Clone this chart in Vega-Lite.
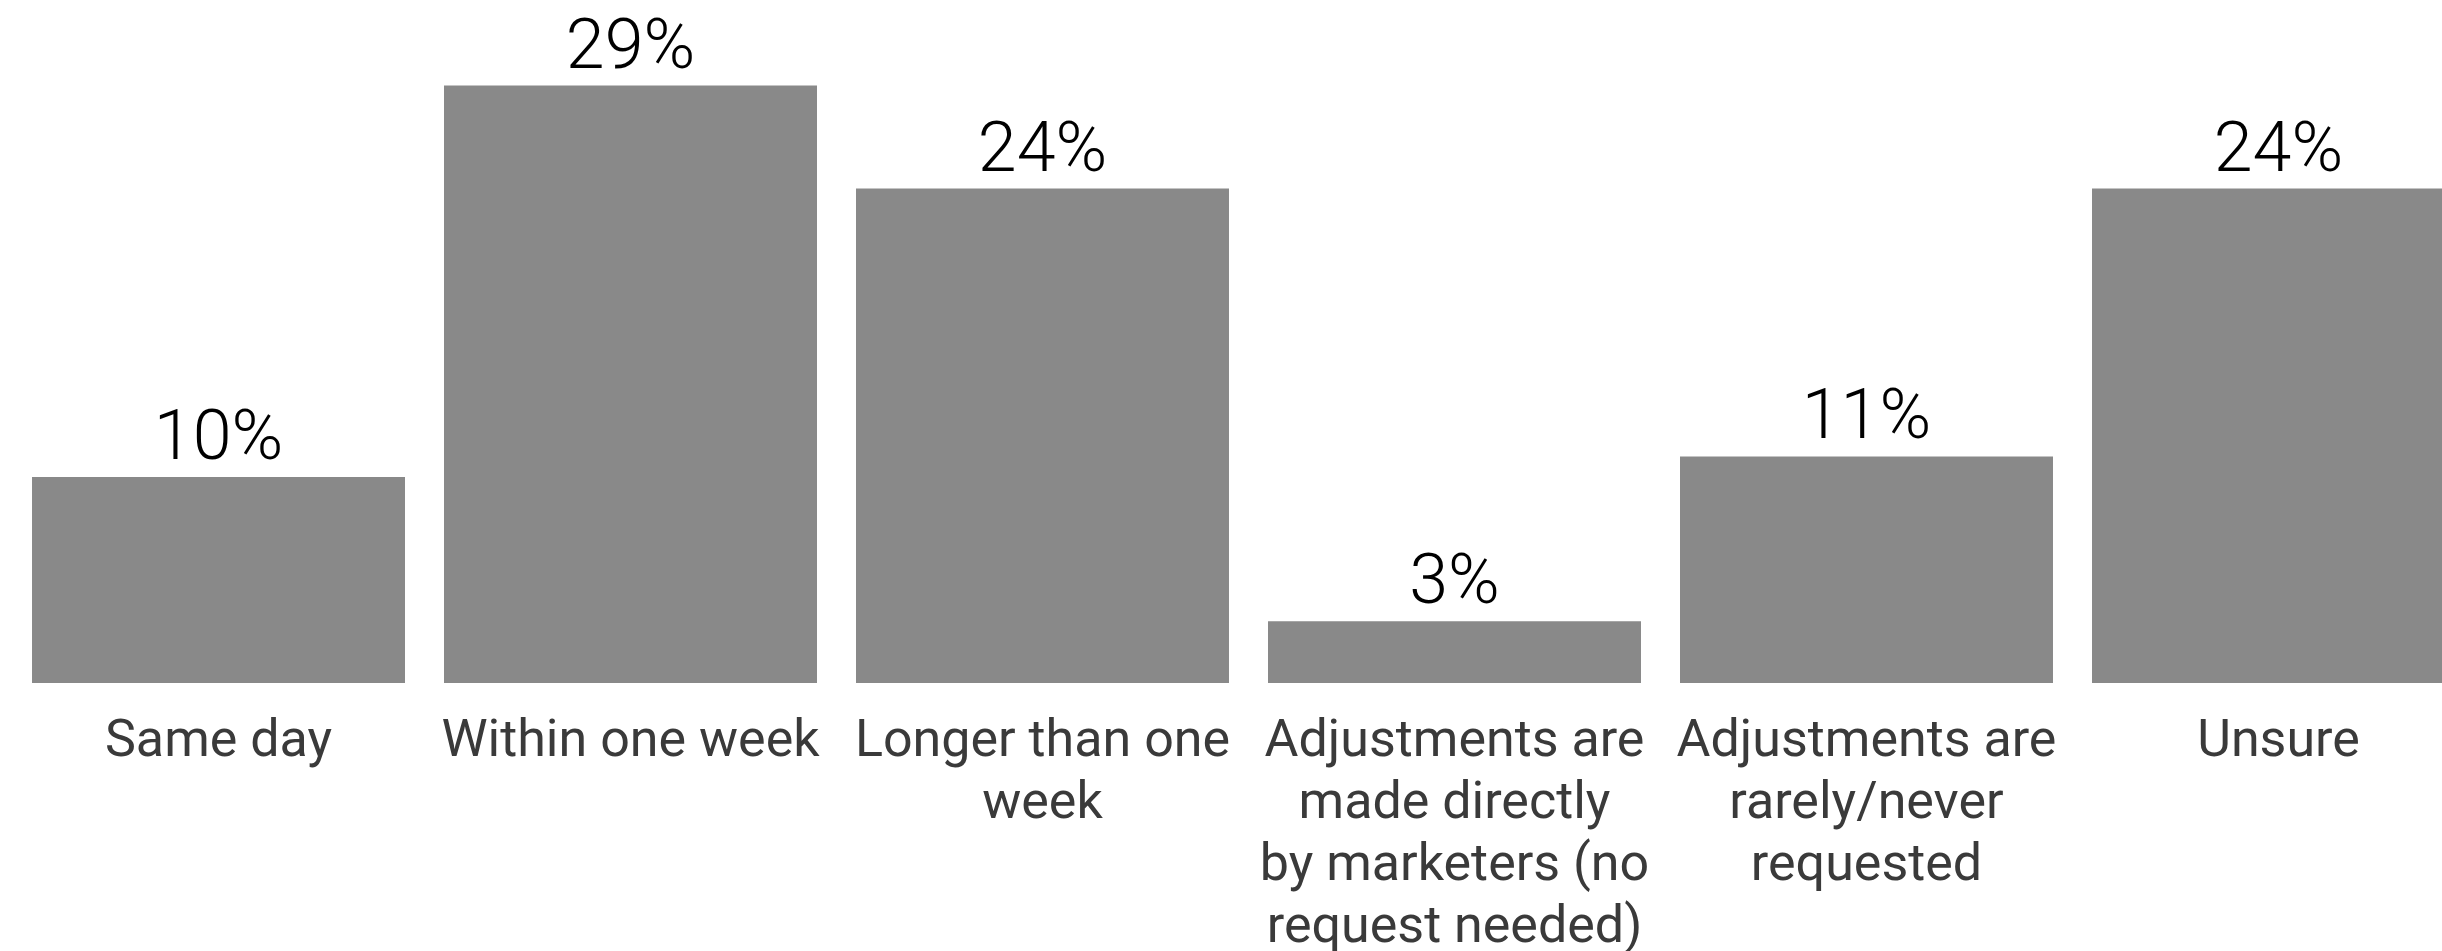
{
  "$schema": "https://vega.github.io/schema/vega-lite/v6.json",
  "autosize": "none",
  "width": 2442,
  "height": 683,
  "padding": {"left": 0, "top": 0, "right": 0, "bottom": 268},
  "background": "white",
  "config": {"view": {"stroke": null}},
  "data": {
    "values": [
      {"answer": "Same day", "share": 0.10},
      {"answer": "Within one week", "share": 0.29},
      {"answer": "Longer than one week", "share": 0.24},
      {"answer": "Adjustments are made directly by marketers (no request needed)", "share": 0.03},
      {"answer": "Adjustments are rarely/never requested", "share": 0.11},
      {"answer": "Unsure", "share": 0.24}
    ]
  },
  "encoding": {
    "x": {
      "field": "answer",
      "type": "nominal",
      "sort": null,
      "scale": {"range": [0, 2497], "paddingInner": 0.0947, "paddingOuter": 0.0777},
      "axis": {
        "title": null,
        "domain": false,
        "ticks": false,
        "tickSize": 0,
        "labelAngle": 0,
        "labelFont": "Roboto",
        "labelFontSize": 52,
        "labelColor": "#3a3a3a",
        "labelBaseline": "alphabetic",
        "labelPadding": 72,
        "labelLineHeight": 62,
        "labelLimit": 0,
        "labelOverlap": false,
        "labelBound": false,
        "labelFlush": false,
        "labelExpr": "datum.value == 'Longer than one week' ? ['Longer than one', 'week'] : datum.value == 'Adjustments are made directly by marketers (no request needed)' ? ['Adjustments are', 'made directly', 'by marketers (no', 'request needed)'] : datum.value == 'Adjustments are rarely/never requested' ? ['Adjustments are', 'rarely/never', 'requested'] : datum.value"
      }
    },
    "y": {
      "field": "share",
      "type": "quantitative",
      "scale": {"domain": [0, 0.33155], "nice": false, "zero": true},
      "axis": null
    }
  },
  "layer": [
    {"mark": {"type": "bar", "color": "#898989"}},
    {
      "mark": {"type": "text", "font": "Roboto", "fontSize": 70, "fontWeight": 300, "color": "#000000", "baseline": "alphabetic", "align": "center", "dy": -18},
      "encoding": {"text": {"field": "share", "type": "quantitative", "format": ".0%"}}
    }
  ]
}
